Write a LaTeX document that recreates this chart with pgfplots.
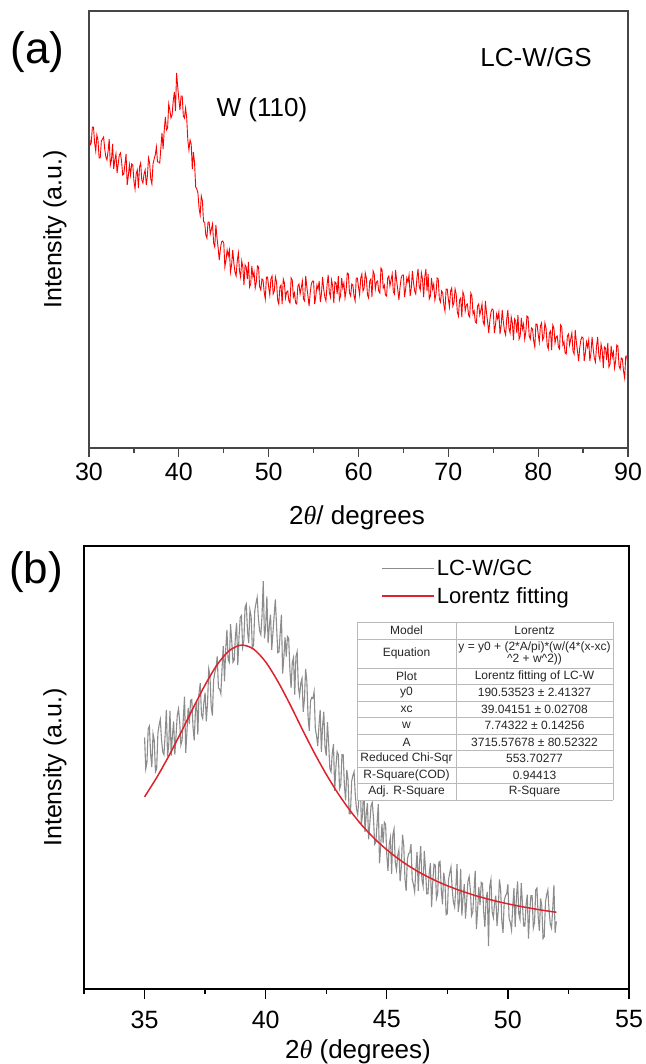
\documentclass[border=0pt]{standalone}
\usepackage{pgfplots}
\pgfplotsset{compat=1.18}
\usepackage{fontspec}
\setmainfont{Liberation Sans}
\newfontfamily\timesf{Liberation Serif}
\definecolor{fitred}{RGB}{220,35,45}
\definecolor{datagrey}{RGB}{140,140,140}
\definecolor{framea}{RGB}{70,70,70}
\begin{document}
\begin{tikzpicture}
\useasboundingbox (0pt,0pt) rectangle (645pt,-1064pt);
% ---------------- panel (a)
\begin{axis}[
  at={(89pt,-11pt)}, anchor=north west, scale only axis,
  width=539pt, height=437pt,
  xmin=30, xmax=90, ymin=0, ymax=437,
  xtick={30,40,...,90}, minor xtick={35,45,...,85}, ytick=\empty,
  xtick pos=lower, tick align=outside,
  major tick length=9pt, minor tick length=5pt,
  axis line style={framea, line width=1.2pt},
  tick style={framea, line width=1.2pt},
  xticklabel style={font=\fontsize{25}{25}\selectfont, yshift=-3pt},
  /pgf/number format/assume math mode=true,
]
\addplot[red, line width=0.9pt, mark=none] coordinates {
(30,321)(30.125,303)(30.25,305)(30.375,321)(30.5,321)(30.625,305)(30.75,297)(30.875,313)(31,308)(31.125,290)(31.25,290)(31.375,307)(31.5,309)(31.625,311)(31.75,299)(31.875,291)(32,288)(32.125,297)(32.25,309)(32.375,283)(32.5,288)(32.625,304)(32.75,279)(32.875,288)(33,294)(33.125,275)(33.25,284)(33.375,293)(33.5,295)(33.625,287)(33.75,273)(33.875,274)(34,284)(34.125,294)(34.25,263)(34.375,272)(34.5,283)(34.625,273)(34.75,284)(34.875,283)(35,267)(35.125,259)(35.25,274)(35.375,278)(35.5,260)(35.625,281)(35.75,285)(35.875,268)(36,265)(36.125,274)(36.25,278)(36.375,263)(36.5,272)(36.625,290)(36.75,285)(36.875,269)(37,264)(37.125,284)(37.25,289)(37.375,293)(37.5,301)(37.625,286)(37.75,286)(37.875,285)(38,300)(38.125,315)(38.25,299)(38.375,318)(38.5,331)(38.625,318)(38.75,320)(38.875,344)(39,338)(39.125,330)(39.25,333)(39.375,347)(39.5,356)(39.625,337)(39.75,375)(39.875,361)(40,349)(40.125,338)(40.25,352)(40.375,352)(40.5,332)(40.625,330)(40.75,340)(40.875,330)(41,308)(41.125,298)(41.25,308)(41.375,304)(41.5,279)(41.625,296)(41.75,285)(41.875,261)(42,259)(42.125,255)(42.25,240)(42.375,233)(42.5,252)(42.625,247)(42.75,226)(42.875,226)(43,213)(43.125,210)(43.25,226)(43.375,226)(43.5,214)(43.625,219)(43.75,224)(43.875,205)(44,201)(44.125,223)(44.25,210)(44.375,200)(44.5,188)(44.625,199)(44.75,206)(44.875,207)(45,205)(45.125,181)(45.25,188)(45.375,198)(45.5,192)(45.625,198)(45.75,176)(45.875,183)(46,198)(46.125,185)(46.25,176)(46.375,172)(46.5,187)(46.625,195)(46.75,177)(46.875,171)(47,187)(47.125,181)(47.25,163)(47.375,183)(47.5,181)(47.625,169)(47.75,186)(47.875,161)(48,164)(48.125,182)(48.25,171)(48.375,176)(48.5,160)(48.625,166)(48.75,182)(48.875,181)(49,161)(49.125,158)(49.25,169)(49.375,168)(49.5,156)(49.625,149)(49.75,171)(49.875,171)(50,161)(50.125,153)(50.25,169)(50.375,172)(50.5,154)(50.625,157)(50.75,171)(50.875,166)(51,148)(51.125,144)(51.25,161)(51.375,163)(51.5,144)(51.625,169)(51.75,165)(51.875,150)(52,156)(52.125,157)(52.25,147)(52.375,145)(52.5,170)(52.625,168)(52.75,151)(52.875,155)(53,145)(53.125,144)(53.25,162)(53.375,164)(53.5,154)(53.625,160)(53.75,167)(53.875,149)(54,147)(54.125,172)(54.25,161)(54.375,152)(54.5,142)(54.625,155)(54.75,164)(54.875,167)(55,167)(55.125,144)(55.25,152)(55.375,163)(55.5,159)(55.625,167)(55.75,146)(55.875,154)(56,171)(56.125,159)(56.25,151)(56.375,147)(56.5,163)(56.625,173)(56.75,156)(56.875,151)(57,168)(57.125,162)(57.25,145)(57.375,166)(57.5,165)(57.625,154)(57.75,172)(57.875,148)(58,152)(58.125,170)(58.25,160)(58.375,165)(58.5,150)(58.625,158)(58.75,175)(58.875,174)(59,155)(59.125,152)(59.25,164)(59.375,163)(59.5,152)(59.625,147)(59.75,170)(59.875,170)(60,161)(60.125,153)(60.25,170)(60.375,174)(60.5,157)(60.625,160)(60.75,175)(60.875,170)(61,153)(61.125,150)(61.25,167)(61.375,169)(61.5,151)(61.625,177)(61.75,174)(61.875,159)(62,166)(62.125,167)(62.25,157)(62.375,155)(62.5,180)(62.625,178)(62.75,160)(62.875,163)(63,153)(63.125,152)(63.25,170)(63.375,172)(63.5,162)(63.625,168)(63.75,174)(63.875,156)(64,154)(64.125,178)(64.25,167)(64.375,158)(64.5,148)(64.625,161)(64.75,170)(64.875,173)(65,173)(65.125,151)(65.25,159)(65.375,170)(65.5,166)(65.625,173)(65.75,152)(65.875,160)(66,177)(66.125,165)(66.25,157)(66.375,154)(66.5,170)(66.625,179)(66.75,162)(66.875,158)(67,175)(67.125,169)(67.25,151)(67.375,171)(67.5,179)(67.625,157)(67.75,174)(67.875,149)(68,152)(68.125,170)(68.25,159)(68.375,164)(68.5,148)(68.625,154)(68.75,170)(68.875,169)(69,149)(69.125,146)(69.25,157)(69.375,155)(69.5,143)(69.625,137)(69.75,159)(69.875,159)(70,149)(70.125,141)(70.25,157)(70.375,160)(70.5,142)(70.625,145)(70.75,159)(70.875,154)(71,136)(71.125,132)(71.25,148)(71.375,150)(71.5,131)(71.625,156)(71.75,152)(71.875,137)(72,143)(72.125,144)(72.25,133)(72.375,131)(72.5,155)(72.625,152)(72.75,134)(72.875,137)(73,126)(73.125,125)(73.25,142)(73.375,144)(73.5,133)(73.625,138)(73.75,144)(73.875,126)(74,123)(74.125,147)(74.25,135)(74.375,126)(74.5,115)(74.625,128)(74.75,136)(74.875,139)(75,138)(75.125,115)(75.25,123)(75.375,134)(75.5,129)(75.625,136)(75.75,114)(75.875,122)(76,138)(76.125,126)(76.25,117)(76.375,113)(76.5,129)(76.625,138)(76.75,120)(76.875,115)(77,131)(77.125,125)(77.25,108)(77.375,129)(77.5,127)(77.625,115)(77.75,133)(77.875,109)(78,112)(78.125,130)(78.25,119)(78.375,124)(78.5,109)(78.625,116)(78.75,132)(78.875,131)(79,112)(79.125,109)(79.25,120)(79.375,119)(79.5,107)(79.625,101)(79.75,124)(79.875,124)(80,114)(80.125,106)(80.25,122)(80.375,125)(80.5,108)(80.625,111)(80.75,125)(80.875,120)(81,103)(81.125,99)(81.25,115)(81.375,117)(81.5,98)(81.625,123)(81.75,120)(81.875,105)(82,111)(82.125,112)(82.25,101)(82.375,99)(82.5,123)(82.625,121)(82.75,103)(82.875,106)(83,95)(83.125,94)(83.25,112)(83.375,114)(83.5,103)(83.625,109)(83.75,115)(83.875,97)(84,94)(84.125,118)(84.25,106)(84.375,97)(84.5,87)(84.625,100)(84.75,108)(84.875,111)(85,110)(85.125,87)(85.25,95)(85.375,106)(85.5,101)(85.625,108)(85.75,87)(85.875,95)(86,111)(86.125,99)(86.25,90)(86.375,86)(86.5,102)(86.625,111)(86.75,93)(86.875,88)(87,104)(87.125,98)(87.25,80)(87.375,101)(87.5,100)(87.625,88)(87.75,105)(87.875,81)(88,84)(88.125,102)(88.25,91)(88.375,96)(88.5,80)(88.625,87)(88.75,103)(88.875,102)(89,82)(89.125,79)(89.25,90)(89.375,89)(89.5,77)(89.625,70)(89.75,92)(89.875,92)(90,82)
};
\end{axis}
% ---------------- panel (b)
\begin{axis}[
  at={(84pt,-546pt)}, anchor=north west, scale only axis,
  width=545pt, height=443pt,
  xmin=32.5, xmax=55, ymin=135, ymax=600,
  xtick={35,40,...,55}, minor xtick={32.5,37.5,...,52.5}, ytick=\empty,
  xtick pos=lower, tick align=outside,
  major tick length=10pt, minor tick length=5pt,
  axis line style={black, line width=1.6pt},
  tick style={black, line width=1.4pt},
  xticklabel style={font=\fontsize{25}{25}\selectfont, yshift=-8pt},
  /pgf/number format/assume math mode=true,
  legend style={draw=none, fill=none, at={(axis description cs:0.545,0.974)},
    anchor=north west, font=\fontsize{22}{24}\selectfont, row sep=6pt,
    inner sep=0pt, cells={anchor=west},
    /tikz/every even column/.append style={column sep=7pt}},
  legend image code/.code={\draw[#1, line width=1.6pt] (0pt,0pt) -- (52pt,0pt);},
  legend cell align=left,
]
\addplot[datagrey, line width=1.1pt, mark=none] coordinates {
(35.0,399)(35.05,366)(35.1,373)(35.15,408)(35.2,411)(35.25,382)(35.3,368)(35.35,403)(35.4,396)(35.45,363)(35.5,366)(35.55,403)(35.6,412)(35.65,418)(35.7,397)(35.75,384)(35.8,381)(35.85,402)(35.9,428)(35.95,379)(36.0,392)(36.05,427)(36.1,380)(36.15,401)(36.2,416)(36.25,381)(36.3,401)(36.35,422)(36.4,429)(36.45,416)(36.5,391)(36.55,396)(36.6,419)(36.65,442)(36.7,383)(36.75,405)(36.8,430)(36.85,413)(36.9,438)(36.95,439)(37.0,410)(37.05,396)(37.1,427)(37.15,437)(37.2,402)(37.25,446)(37.3,456)(37.35,423)(37.4,419)(37.45,436)(37.5,446)(37.55,416)(37.6,435)(37.65,471)(37.7,464)(37.75,432)(37.8,422)(37.85,459)(37.9,467)(37.95,472)(38.0,484)(38.05,451)(38.1,450)(38.15,445)(38.2,472)(38.25,495)(38.3,458)(38.35,491)(38.4,512)(38.45,481)(38.5,478)(38.55,518)(38.6,500)(38.65,478)(38.7,480)(38.75,505)(38.8,519)(38.85,475)(38.9,505)(38.95,525)(39.0,527)(39.05,494)(39.1,501)(39.15,536)(39.2,539)(39.25,511)(39.3,498)(39.35,533)(39.4,526)(39.45,493)(39.5,496)(39.55,532)(39.6,540)(39.65,546)(39.7,524)(39.75,511)(39.8,507)(39.85,527)(39.9,563)(39.95,503)(40.0,515)(40.05,547)(40.1,498)(40.15,516)(40.2,528)(40.25,491)(40.3,509)(40.35,527)(40.4,544)(40.45,516)(40.5,488)(40.55,489)(40.6,509)(40.65,528)(40.7,466)(40.75,483)(40.8,504)(40.85,484)(40.9,505)(40.95,503)(41.0,470)(41.05,451)(41.1,478)(41.15,483)(41.2,444)(41.25,484)(41.3,489)(41.35,452)(41.4,443)(41.45,456)(41.5,461)(41.55,426)(41.6,439)(41.65,471)(41.7,458)(41.75,421)(41.8,406)(41.85,437)(41.9,441)(41.95,440)(42.0,447)(42.05,408)(42.1,401)(42.15,390)(42.2,411)(42.25,428)(42.3,384)(42.35,411)(42.4,426)(42.45,389)(42.5,380)(42.55,415)(42.6,393)(42.65,366)(42.7,363)(42.75,383)(42.8,392)(42.85,343)(42.9,368)(42.95,384)(43.0,381)(43.05,345)(43.1,349)(43.15,381)(43.2,381)(43.25,349)(43.3,333)(43.35,365)(43.4,355)(43.45,319)(43.5,319)(43.55,353)(43.6,359)(43.65,363)(43.7,339)(43.75,324)(43.8,318)(43.85,336)(43.9,360)(43.95,308)(44.0,318)(44.05,350)(44.1,300)(44.15,318)(44.2,330)(44.25,292)(44.3,309)(44.35,327)(44.4,331)(44.45,315)(44.5,287)(44.55,289)(44.6,309)(44.65,329)(44.7,267)(44.75,286)(44.8,308)(44.85,288)(44.9,310)(44.95,308)(45.0,276)(45.05,259)(45.1,287)(45.15,294)(45.2,256)(45.25,297)(45.3,303)(45.35,268)(45.4,260)(45.45,275)(45.5,281)(45.55,248)(45.6,263)(45.65,297)(45.7,286)(45.75,251)(45.8,238)(45.85,271)(45.9,277)(45.95,278)(46.0,287)(46.05,250)(46.1,245)(46.15,237)(46.2,260)(46.25,279)(46.3,238)(46.35,267)(46.4,285)(46.45,250)(46.5,243)(46.55,280)(46.6,260)(46.65,235)(46.7,235)(46.75,256)(46.8,267)(46.85,221)(46.9,248)(46.95,266)(47.0,265)(47.05,230)(47.1,235)(47.15,268)(47.2,269)(47.25,239)(47.3,224)(47.35,257)(47.4,248)(47.45,213)(47.5,214)(47.55,250)(47.6,257)(47.65,263)(47.7,240)(47.75,226)(47.8,221)(47.85,241)(47.9,266)(47.95,216)(48.0,227)(48.05,261)(48.1,212)(48.15,232)(48.2,245)(48.25,209)(48.3,228)(48.35,248)(48.4,253)(48.45,239)(48.5,212)(48.55,216)(48.6,237)(48.65,259)(48.7,198)(48.75,218)(48.8,242)(48.85,223)(48.9,247)(48.95,246)(49.0,216)(49.05,200)(49.1,229)(49.15,237)(49.2,180)(49.25,243)(49.3,250)(49.35,216)(49.4,210)(49.45,225)(49.5,233)(49.55,201)(49.6,217)(49.65,250)(49.7,240)(49.75,206)(49.8,194)(49.85,228)(49.9,233)(49.95,235)(50.0,245)(50.05,209)(50.1,205)(50.15,197)(50.2,221)(50.25,241)(50.3,200)(50.35,230)(50.4,248)(50.45,214)(50.5,208)(50.55,246)(50.6,225)(50.65,201)(50.7,201)(50.75,223)(50.8,234)(50.85,188)(50.9,216)(50.95,233)(51.0,233)(51.05,199)(51.1,205)(51.15,239)(51.2,241)(51.25,211)(51.3,196)(51.35,230)(51.4,222)(51.45,188)(51.5,190)(51.55,226)(51.6,234)(51.65,239)(51.7,217)(51.75,203)(51.8,199)(51.85,219)(51.9,244)(51.95,194)(52.0,206)
};
\addlegendentry{LC-W/GC}
\addplot[fitred, line width=1.5pt, mark=none, smooth] coordinates {
(35,336.7)(35.5,356.9)(36,379.5)(36.5,404.1)(37,429.6)(37.5,454.2)(38,475.5)(38.5,490.2)(39,496.0)(39.5,491.8)(40,478.3)(40.5,458.0)(41,434.0)(41.5,408.2)(42,383.3)(42.5,360.4)(43,339.8)(43.5,321.8)(44,306.1)(44.5,292.7)(45,281.2)(45.5,271.2)(46,262.7)(46.5,255.3)(47,248.9)(47.5,243.4)(48,238.6)(48.5,234.3)(49,230.6)(49.5,227.3)(50,224.4)(50.5,221.8)(51,219.5)(51.5,217.4)(52,215.6)
};
\addlegendentry{Lorentz fitting}
\end{axis}
% ---------------- texts
\node[font=\fontsize{44}{44}\selectfont] at (37.5pt,-52pt) {(a)};
\node[font=\fontsize{44}{44}\selectfont] at (36pt,-572pt) {(b)};
\node[font=\fontsize{26}{26}\selectfont] at (262pt,-110pt) {W (110)};
\node[font=\fontsize{26}{26}\selectfont] at (536pt,-57pt) {LC-W/GS};
\node[rotate=90, font=\fontsize{25}{25}\selectfont] at (55pt,-229.5pt) {Intensity (a.u.)};
\node[rotate=90, font=\fontsize{25}{25}\selectfont] at (55pt,-767.5pt) {Intensity (a.u.)};
\node[font=\fontsize{26}{26}\selectfont] at (357pt,-518pt) {2{\timesf\itshape θ}/ degrees};
\node[font=\fontsize{26}{26}\selectfont] at (358pt,-1052pt) {2{\timesf\itshape θ} (degrees)};
% ---------------- fit table
\begin{scope}[font=\fontsize{12}{13}\selectfont, text=black!85]
\fill[white] (357pt,-622pt) rectangle (613pt,-800pt);
\foreach \yy in {622,639,668,684.5,701,717.5,734,750.5,767,783.5,800}
  \draw[gray!55, line width=0.7pt] (357pt,-\yy pt) -- (613pt,-\yy pt);
\foreach \xx in {357,456,613}
  \draw[gray!55, line width=0.7pt] (\xx pt,-622pt) -- (\xx pt,-800pt);
\node at (406.5pt,-630.5pt) {Model};
\node at (534.5pt,-630.5pt) {Lorentz};
\node at (406.5pt,-653.5pt) {Equation};
\node[align=center, inner sep=0pt] at (534.5pt,-653.5pt) {y = y0 + (2*A/pi)*(w/(4*(x-xc)\\[-1pt]\textasciicircum{}2 + w\textasciicircum{}2))};
\node at (406.5pt,-676.25pt) {Plot};
\node at (534.5pt,-676.25pt) {Lorentz fitting of LC-W};
\node at (406.5pt,-692.75pt) {y0};
\node at (534.5pt,-692.75pt) {190.53523 ± 2.41327};
\node at (406.5pt,-709.25pt) {xc};
\node at (534.5pt,-709.25pt) {39.04151 ± 0.02708};
\node at (406.5pt,-725.75pt) {w};
\node at (534.5pt,-725.75pt) {7.74322 ± 0.14256};
\node at (406.5pt,-742.25pt) {A};
\node at (534.5pt,-742.25pt) {3715.57678 ± 80.52322};
\node at (406.5pt,-758.75pt) {Reduced Chi-Sqr};
\node at (534.5pt,-758.75pt) {553.70277};
\node at (406.5pt,-775.25pt) {R-Square(COD)};
\node at (534.5pt,-775.25pt) {0.94413};
\node at (406.5pt,-791.75pt) {Adj. R-Square};
\node at (534.5pt,-791.75pt) {R-Square};
\end{scope}
\end{tikzpicture}
\end{document}
